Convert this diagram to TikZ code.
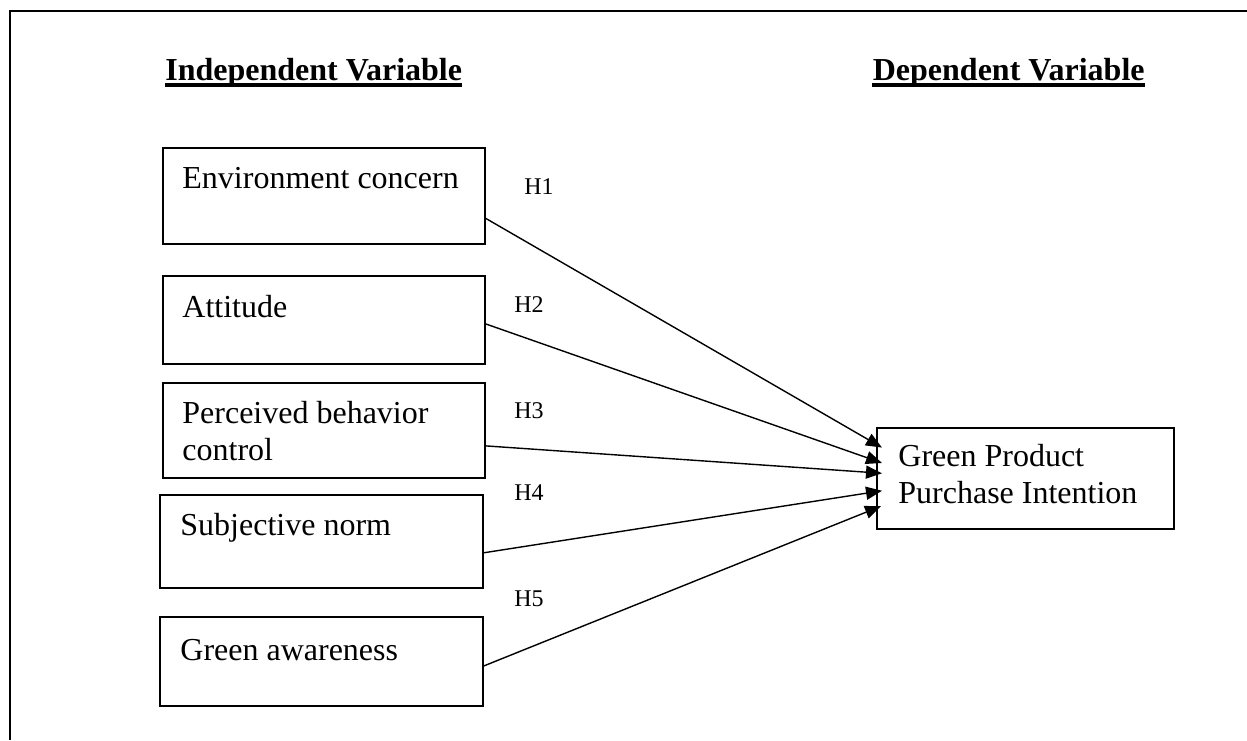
\documentclass[tikz,border=0pt]{standalone}
\usepackage{fontspec}
\setmainfont{Liberation Serif}
\usetikzlibrary{calc,arrows.meta}

\tikzset{
  varbox/.style={draw, line width=0.9pt, inner sep=0pt, anchor=north west},
  boxtext/.style={inner sep=0pt, anchor=base west, align=left,
    font=\fontsize{16pt}{18.5pt}\selectfont},
  heading/.style={inner sep=0pt, font=\fontsize{16pt}{19pt}\selectfont\bfseries},
  hyp/.style={inner sep=0pt, anchor=base west, font=\fontsize{12pt}{14pt}\selectfont},
  link/.style={line width=0.7pt, -{Triangle[length=8pt,width=6.5pt]}},
}

\begin{document}
\begin{tikzpicture}[x=0.5pt,y=-0.5pt]
  \useasboundingbox (0,0) rectangle (1247,740);

  % open frame: top and left rules only
  \draw[line width=1.2pt] (10,740) -- (10,11) -- (1247,11);

  % column headings
  \node[heading, anchor=base west] (hind) at (165,80) {Independent Variable};
  \node[heading, anchor=base east] (hdep) at (1145,80) {Dependent Variable};
  \draw[line width=2.3pt] ($(hind.base west)+(0,5)$) -- ($(hind.base east)+(0,5)$);
  \draw[line width=2.3pt] ($(hdep.base west)+(0,5)$) -- ($(hdep.base east)+(0,5)$);

  % independent variables
  \node[varbox, minimum width=161pt, minimum height=48pt] (b1) at (162,147) {};
  \node[boxtext] (t1) at (182,188) {Environment concern};

  \node[varbox, minimum width=161pt, minimum height=44pt] (b2) at (162,275) {};
  \node[boxtext] (t2) at (182,317) {Attitude};

  \node[varbox, minimum width=161pt, minimum height=47.5pt] (b3) at (162,382) {};
  % two-line text: the base anchor sits on the last line
  \node[boxtext] (t3) at (182,460) {Perceived behavior\\control};

  \node[varbox, minimum width=161.5pt, minimum height=46.5pt] (b4) at (159,494) {};
  \node[boxtext] (t4) at (180,535) {Subjective norm};

  \node[varbox, minimum width=161.5pt, minimum height=44.5pt] (b5) at (159,616) {};
  \node[boxtext] (t5) at (180,660) {Green awareness};

  % dependent variable
  \node[varbox, minimum width=148.5pt, minimum height=50.5pt] (dv) at (876,427) {};
  \node[boxtext] (tdv) at (898,503) {Green Product\\Purchase Intention};

  % hypothesis labels
  \node[hyp] (h1) at (524,194) {H1};
  \node[hyp] (h2) at (514,312) {H2};
  \node[hyp] (h3) at (514,418) {H3};
  \node[hyp] (h4) at (514,500) {H4};
  \node[hyp] (h5) at (514,606) {H5};

  % hypothesised paths
  \draw[link] ($(b1.north east)!0.73!(b1.south east)$) -- ($(dv.north west)!0.20!(dv.south west)+(6,0)$);
  \draw[link] ($(b2.north east)!0.545!(b2.south east)$) -- ($(dv.north west)!0.35!(dv.south west)+(6,0)$);
  \draw[link] ($(b3.north east)!0.66!(b3.south east)$) -- ($(dv.north west)!0.45!(dv.south west)+(6,0)$);
  \draw[link] ($(b4.north east)!0.62!(b4.south east)$) -- ($(dv.north west)!0.62!(dv.south west)+(6,0)$);
  \draw[link] ($(b5.north east)!0.55!(b5.south east)$) -- ($(dv.north west)!0.77!(dv.south west)+(5,0)$);
\end{tikzpicture}
\end{document}
